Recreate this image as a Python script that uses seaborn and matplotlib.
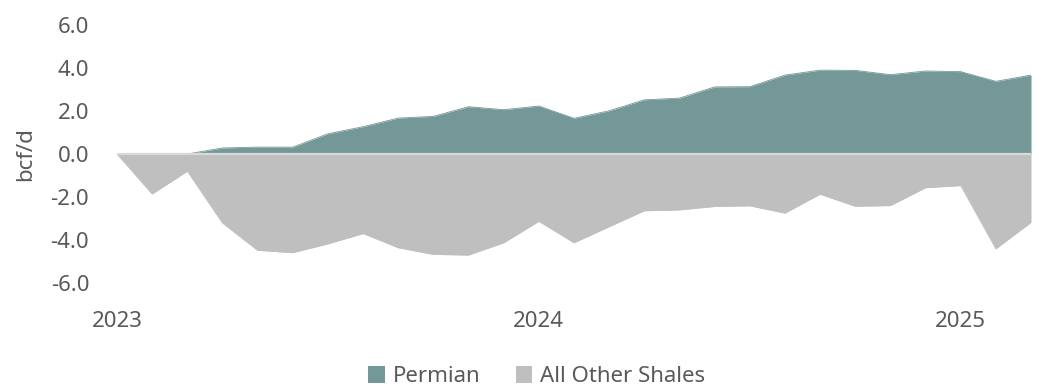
import numpy as np
import pandas as pd
import matplotlib
matplotlib.use("Agg")
import matplotlib.pyplot as plt
import seaborn as sns
from matplotlib.patches import Patch

months = [f"{y}-{m:02d}" for y in (2023, 2024, 2025) for m in range(1, 13)][:27]
permian = [0.0, 0.0, 0.0, 0.28, 0.32, 0.32, 0.94, 1.27, 1.67, 1.75, 2.20, 2.06, 2.23,
           1.66, 2.01, 2.52, 2.60, 3.12, 3.13, 3.67, 3.90, 3.89, 3.69, 3.86, 3.83, 3.38, 3.67]
other = [0.0, -1.86, -0.80, -3.21, -4.48, -4.59, -4.18, -3.70, -4.36, -4.67, -4.70, -4.13, -3.13,
         -4.13, -3.38, -2.64, -2.60, -2.44, -2.41, -2.75, -1.87, -2.43, -2.40, -1.57, -1.47, -4.41, -3.18]
year_labels = ["2023", "2024", "2025"]
series_names = ["Permian", "All Other Shales"]

teal = "#739897"
gray = "#bfbfbf"
txt = "#595959"
fs = 16

sns.set_theme(style="white")
plt.rcParams['font.family'] = ['Noto Sans', 'DejaVu Sans']

df = pd.DataFrame({"month": months, "Permian": permian, "All Other Shales": other})
df["x"] = np.arange(len(df))

fig = plt.figure(figsize=(10.38, 3.86), dpi=100)
ax = fig.add_axes([117/1038, 1 - 283/386, (1031 - 117)/1038, (283 - 25)/386])

ax.fill_between(df["x"], 0, df["Permian"], color=teal, linewidth=0)
ax.fill_between(df["x"], 0, df["All Other Shales"], color=gray, linewidth=0)
sns.lineplot(data=df, x="x", y="Permian", ax=ax, color=teal, linewidth=0.6)
sns.lineplot(data=df, x="x", y="All Other Shales", ax=ax, color=gray, linewidth=0.6)
ax.axhline(0, color="#d9d9d9", linewidth=1.6, zorder=3)

ax.set_xlim(0, len(df) - 1)
ax.set_ylim(-6, 6)
ax.set_yticks(np.arange(-6, 7, 2))
ax.set_yticklabels([f"{v:.1f}" for v in np.arange(-6, 7, 2)], color=txt, fontsize=fs)
ax.set_xticks([0, 12, 24])
ax.set_xticklabels(year_labels, color=txt, fontsize=fs)
ax.tick_params(axis="x", pad=20, length=0)
ax.tick_params(axis="y", pad=20, length=0)
ax.set_xlabel("")
ax.set_ylabel("bcf/d", color=txt, fontsize=fs)
ax.yaxis.set_label_coords((36 - 117) / 914, 0.5)
for s in ax.spines.values():
    s.set_visible(False)
ax.grid(False)

handles = [Patch(facecolor=teal, edgecolor="none"), Patch(facecolor=gray, edgecolor="none")]
fig.legend(handles, series_names, loc="lower center", bbox_to_anchor=(0.517, -0.055), ncol=2,
           frameon=False, fontsize=fs, handlelength=0.75, handleheight=0.75, handletextpad=0.35,
           columnspacing=1.6, labelcolor=txt)

fig.savefig("out.png", dpi=100)
